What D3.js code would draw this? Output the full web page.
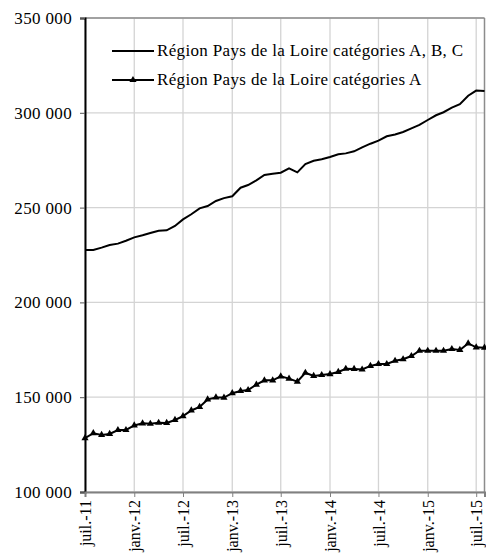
<!DOCTYPE html>
<html>
<head>
<meta charset="utf-8">
<script src="https://cdn.jsdelivr.net/npm/d3@7"></script>
<style>
  body { margin: 0; background: #fff; }
  svg { display: block; }
  text { font-family: "Liberation Serif", "Times New Roman", serif; fill: #000; letter-spacing: 0.35px; }
</style>
</head>
<body>
<div id="chart"></div>
<script>
// months from juil. 2011 to août 2015
var startMonth = new Date(2011, 6, 1);
var seriesNames = [
    'Région Pays de la Loire catégories A, B, C',
    'Région Pays de la Loire catégories A'
];
var valuesABC = [
    227600, 227600, 228900, 230300, 231000, 232500, 234300, 235400, 236600, 237800,
    238000, 240300, 243800, 246500, 249600, 250800, 253500, 255000, 256000, 260500,
    261900, 264400, 267200, 267900, 268400, 270700, 268600, 273000, 274700, 275500,
    276700, 278100, 278600, 279700, 281800, 283700, 285300, 287600, 288600, 289900,
    291800, 293600, 296200, 298700, 300300, 302700, 304500, 309000, 311700, 311500
];
var valuesA = [
    128400, 131000, 130100, 130600, 132700, 132700, 135100, 136200, 136000, 136500,
    136400, 138000, 140000, 143000, 144900, 148800, 149900, 149800, 152100, 153300,
    153800, 156600, 158900, 158900, 161000, 159800, 158200, 162900, 161200, 161700,
    162200, 163300, 165000, 164900, 164600, 166500, 167500, 167500, 169200, 170000,
    171700, 174500, 174500, 174500, 174500, 175400, 174900, 178400, 176300, 176100
];
var yTicks = [100000, 150000, 200000, 250000, 300000, 350000];
var xTickLabels = ['juil.-11', 'janv.-12', 'juil.-12', 'janv.-13', 'juil.-13',
    'janv.-14', 'juil.-14', 'janv.-15', 'juil.-15'];

var W = 486, H = 556;
var pad = { left: 85, top: 18, right: 1.5, bottom: 64 };
var w = W - pad.left - pad.right, h = H - pad.top - pad.bottom;

var dates = valuesABC.map(function (d, i) {
    return d3.timeMonth.offset(startMonth, i);
});
var xTickDates = xTickLabels.map(function (d, i) {
    return d3.timeMonth.offset(startMonth, i * 6);
});

var x = d3.scaleTime().domain([dates[0], dates[dates.length - 1]]).range([0, w]);
var y = d3.scaleLinear().domain([100000, 350000]).range([h, 0]);

var svg = d3.select('#chart').append('svg').attr('width', W).attr('height', H);
var g = svg.append('g').attr('transform', 'translate(' + pad.left + ',' + pad.top + ')');

// gridlines
g.selectAll('.hgrid').data(yTicks).enter().append('line')
    .attr('x1', 0).attr('x2', w)
    .attr('y1', function (d) { return y(d); }).attr('y2', function (d) { return y(d); })
    .attr('stroke', '#d4d4d4').attr('stroke-width', 1.3);
g.selectAll('.vgrid').data(xTickDates).enter().append('line')
    .attr('x1', function (d) { return x(d); }).attr('x2', function (d) { return x(d); })
    .attr('y1', 0).attr('y2', h)
    .attr('stroke', '#d4d4d4').attr('stroke-width', 1.3);

// plot border (top / right)
g.append('line').attr('x1', 0).attr('x2', w).attr('y1', 0).attr('y2', 0)
    .attr('stroke', '#8c8c8c').attr('stroke-width', 1.5);
g.append('line').attr('x1', w).attr('x2', w).attr('y1', 0).attr('y2', h)
    .attr('stroke', '#8c8c8c').attr('stroke-width', 1.5);

// axes
var fmt = function (d) { return d3.format(',')(d).replace(/,/g, ' '); };
var yAxis = g.append('g').call(d3.axisLeft(y).tickValues(yTicks).tickFormat(fmt).tickSize(5).tickPadding(8));
yAxis.select('.domain').attr('stroke', '#000').attr('stroke-width', 2);
yAxis.selectAll('.tick line').attr('stroke', '#555');
yAxis.selectAll('text').style('font-size', '17px').attr('fill', '#000');

var xAxis = g.append('g').attr('transform', 'translate(0,' + h + ')')
    .call(d3.axisBottom(x).tickValues(xTickDates)
        .tickFormat(function (d, i) { return xTickLabels[i]; }).tickSize(5).tickPadding(6));
xAxis.select('.domain').attr('stroke', '#808080').attr('stroke-width', 2);
xAxis.selectAll('.tick line').attr('stroke', '#808080');
xAxis.selectAll('text')
    .style('font-size', '16px').style('letter-spacing', '0px').attr('fill', '#000')
    .attr('text-anchor', 'end').attr('dy', '0.35em')
    .attr('transform', 'translate(0,2) rotate(-90)')
    .attr('x', -6).attr('y', 0);

// lines
var line = d3.line()
    .x(function (d, i) { return x(dates[i]); })
    .y(function (d) { return y(d); });

g.append('path').datum(valuesABC).attr('d', line)
    .attr('fill', 'none').attr('stroke', '#000').attr('stroke-width', 2);
g.append('path').datum(valuesA).attr('d', line)
    .attr('fill', 'none').attr('stroke', '#000').attr('stroke-width', 2);

var tri = d3.symbol().type(d3.symbolTriangle).size(22);
g.selectAll('.mk').data(valuesA).enter().append('path')
    .attr('d', tri)
    .attr('transform', function (d, i) { return 'translate(' + x(dates[i]) + ',' + y(d) + ')'; })
    .attr('fill', '#000');

// legend
var lg = svg.append('g');
[0, 1].forEach(function (k) {
    var ly = 51 + k * 29;
    lg.append('line').attr('x1', 112).attr('x2', 154).attr('y1', ly).attr('y2', ly)
        .attr('stroke', '#000').attr('stroke-width', 2);
    if (k === 1) {
        lg.append('path').attr('d', tri).attr('transform', 'translate(133,' + ly + ')').attr('fill', '#000');
    }
    lg.append('text').attr('x', 157).attr('y', ly).attr('dy', '0.32em')
        .style('font-size', '17px').text(seriesNames[k]);
});
</script>
</body>
</html>
